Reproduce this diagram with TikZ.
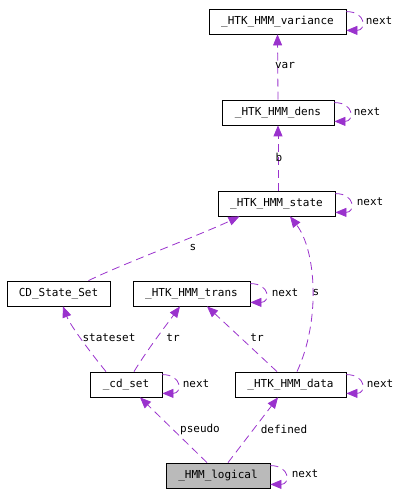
\documentclass[tikz,border=0pt]{standalone}
\usepackage{fontspec}
\setmonofont{DejaVu Sans Mono}
\usetikzlibrary{arrows.meta}
\definecolor{edgecol}{HTML}{9A32CD}
\begin{document}
\begin{tikzpicture}[x=1pt,y=1pt,
  font=\ttfamily\fontsize{11}{12}\selectfont,
  cls/.style={draw=black, line width=0.8pt, fill=white, minimum height=25pt, inner sep=0pt},
  cur/.style={cls, fill=black!27},
  edge/.style={draw=edgecol, line width=0.8pt, dash pattern=on 8pt off 5pt, -{Triangle[length=11pt,width=9pt,fill=edgecol]}},
  lbl/.style={inner sep=0pt, text=black}]
\useasboundingbox (0,0) rectangle (404,495);
\node[cls, minimum width=137pt] (variance) at (277.5,473.5) {\_HTK\_HMM\_variance};
\node[cls, minimum width=112pt] (dens) at (278,382.5) {\_HTK\_HMM\_dens};
\node[cls, minimum width=117pt] (state) at (276.5,291.5) {\_HTK\_HMM\_state};
\node[cls, minimum width=103pt] (cdss) at (58.5,201.5) {CD\_State\_Set};
\node[cls, minimum width=117pt] (trans) at (191.5,201.5) {\_HTK\_HMM\_trans};
\node[cls, minimum width=72pt] (cdset) at (126,110.5) {\_cd\_set};
\node[cls, minimum width=111pt] (data) at (290.5,110.5) {\_HTK\_HMM\_data};
\node[cur, minimum width=104pt] (logical) at (218,19.5) {\_HMM\_logical};

% self loops
\foreach \n/\lx/\ly in {variance/379/474, dens/367/383, state/370/293, trans/285/202, cdset/196/111, data/380/111, logical/305/21}{
  \draw[edge] ([yshift=-3pt]\n.north east) .. controls +(20,0) and +(20,0) .. ([yshift=4pt]\n.south east);
  \node[lbl] (next-\n) at (\lx,\ly) {next};
}

\draw[edge] (dens.north) -- (variance.south);
\node[lbl] (l-var) at (285,429) {var};
\draw[edge] ([xshift=1.5pt]state.north) -- (dens.south);
\node[lbl] (l-b) at (279,338) {b};
\draw[edge] ([xshift=30pt]cdss.north) .. controls (120,230) and (200,260) .. ([xshift=-37pt]state.south);
\node[lbl] (l-s1) at (193,247) {s};
\draw[edge] ([xshift=6.5pt]data.north) .. controls (321,175) and (316,245) .. ([xshift=13.5pt]state.south);
\node[lbl] (l-s2) at (316,202) {s};
\draw[edge] ([xshift=-20pt]cdset.north) .. controls (90,143) and (70,170) .. ([xshift=4.5pt]cdss.south);
\node[lbl] (l-stateset) at (109,157) {stateset};
\draw[edge] ([xshift=8pt]cdset.north) .. controls (147,145) and (170,175) .. ([xshift=-11.5pt]trans.south);
\node[lbl] (l-tr1) at (173,157) {tr};
\draw[edge] ([xshift=-13.5pt]data.north) -- ([xshift=15.5pt]trans.south);
\node[lbl] (l-tr2) at (257,157) {tr};
\draw[edge] ([xshift=-11pt]logical.north) -- ([xshift=14pt]cdset.south);
\node[lbl] (l-pseudo) at (200,66) {pseudo};
\draw[edge] ([xshift=10pt]logical.north) -- ([xshift=-12.5pt]data.south);
\node[lbl] (l-defined) at (284,66) {defined};
\end{tikzpicture}
\end{document}
